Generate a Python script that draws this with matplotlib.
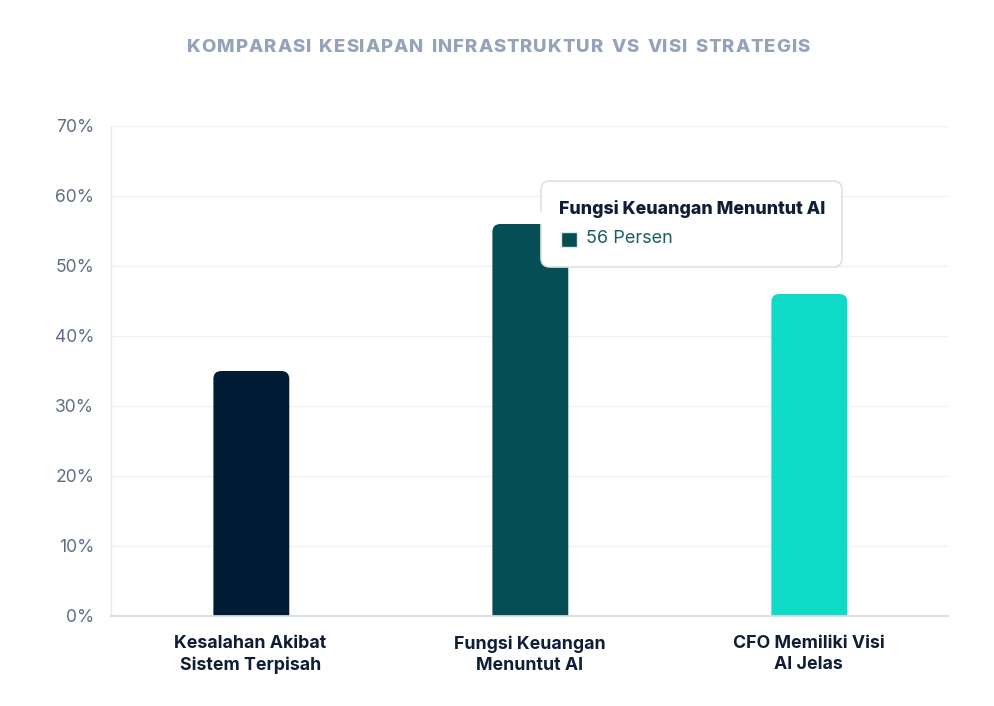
import matplotlib
matplotlib.use("Agg")
import matplotlib.pyplot as plt
from matplotlib.patches import FancyBboxPatch, Polygon, Rectangle
from matplotlib.ticker import FixedLocator

plt.rcParams['font.family'] = ['Inter', 'DejaVu Sans']

# ---- data ----
categories = ["Kesalahan Akibat\nSistem Terpisah",
              "Fungsi Keuangan\nMenuntut AI",
              "CFO Memiliki Visi\nAI Jelas"]
values = [35, 56, 46]
bar_colors = ["#021c35", "#044e54", "#0ddbc6"]
y_ticks = [0, 10, 20, 30, 40, 50, 60, 70]
y_tick_labels = [f"{v}%" for v in y_ticks]
title_text = "KOMPARASI KESIAPAN INFRASTRUKTUR VS VISI STRATEGIS"
tooltip_title = "Fungsi Keuangan Menuntut AI"
tooltip_value = "56 Persen"
tooltip_index = 1

W, H = 994, 706
fig = plt.figure(figsize=(W / 100, H / 100), dpi=100)
fig.patch.set_facecolor("white")

def fx(x):
    return x / W

def fy(y):
    return 1 - y / H

ax = fig.add_axes([fx(111), fy(616), fx(948) - fx(111), fy(126) - fy(616)])
ax.set_xlim(-0.5, 2.5)
ax.set_ylim(0, 70)

# gridlines
ax.yaxis.set_major_locator(FixedLocator(y_ticks))
ax.set_yticklabels(y_tick_labels)
ax.grid(axis="y", color="#eef1f4", linewidth=1)
ax.set_axisbelow(True)
for s in ["top", "right"]:
    ax.spines[s].set_visible(False)
ax.spines["left"].set_color("#e6e9ee")
ax.spines["left"].set_linewidth(1)
ax.spines["bottom"].set_color("#d5dbe2")
ax.spines["bottom"].set_linewidth(1.3)
ax.spines["bottom"].set_zorder(5)
ax.tick_params(axis="y", length=0, pad=12, labelsize=12.6, labelcolor="#5f6e86")
ax.tick_params(axis="x", length=0, pad=14, labelsize=12.8, labelcolor="#0f1e36")

ax.set_xticks(range(len(categories)))
ax.set_xticklabels(categories, fontweight="bold", linespacing=1.3)

# bars with rounded tops
bar_w = 0.272
bars = ax.bar([i + 0.003 for i in range(len(values))], values, width=bar_w, color=bar_colors)
# pixels per data unit
px_x = (948 - 111) / 3.0
px_y = (616 - 126) / 70.0
radius_px = 8
rs = radius_px / px_x
aspect = px_x / px_y
for b, c in zip(bars, bar_colors):
    b.set_visible(False)
    x0 = b.get_x()
    h = b.get_height()
    p = FancyBboxPatch((x0, -5), b.get_width(), h + 5,
                       boxstyle=f"round,pad=0,rounding_size={rs}",
                       mutation_aspect=aspect,
                       facecolor=c, edgecolor="none", zorder=3,
                       clip_on=True)
    ax.add_patch(p)

# title with letter spacing
renderer = fig.canvas.get_renderer()
title_left, title_right, title_y = 187, 810, 48
tcolor = "#94a3b8"
tsize = 13.4
tweight = 800
widths = []
for ch in title_text:
    t = fig.text(0, 0, ch if ch != " " else "I", fontsize=tsize, fontweight=tweight)
    bb = t.get_window_extent(renderer)
    widths.append(bb.width if ch != " " else bb.width * 1.2)
    t.remove()
gap = (title_right - title_left - sum(widths)) / (len(title_text) - 1)
xcur = title_left
for ch, wch in zip(title_text, widths):
    if ch != " ":
        fig.text(fx(xcur), fy(title_y), ch, fontsize=tsize, fontweight=tweight,
                 color=tcolor, ha="left", va="center")
    xcur += wch + gap

# tooltip
bx0, by0, bx1, by1 = 541, 181, 842, 267
box = FancyBboxPatch((fx(bx0), fy(by1)), fx(bx1) - fx(bx0), fy(by0) - fy(by1),
                     boxstyle=f"round,pad=0,rounding_size={fx(9)}",
                     mutation_aspect=W / H,
                     transform=fig.transFigure, facecolor="white",
                     edgecolor="#d9e3e4", linewidth=1.2, zorder=10)
fig.add_artist(box)
tri = Polygon([(fx(bx0 + 1), fy(211)), (fx(bx0 - 7), fy(218)), (fx(bx0 + 1), fy(225))],
              closed=True, transform=fig.transFigure, facecolor="white",
              edgecolor="none", zorder=11)
fig.add_artist(tri)
fig.text(fx(559), fy(209), tooltip_title, fontsize=12.75, fontweight=800,
         color="#0f1e36", ha="left", va="center", zorder=12)
sq = Rectangle((fx(561), fy(247)), fx(16), fy(232) - fy(247),
               transform=fig.transFigure, facecolor=bar_colors[tooltip_index],
               edgecolor="#e3eaea", linewidth=1, zorder=12)
fig.add_artist(sq)
fig.text(fx(586), fy(239), tooltip_value, fontsize=13, color="#1f5d62",
         ha="left", va="center", zorder=12)

fig.savefig("out.png", dpi=100, facecolor="white")
